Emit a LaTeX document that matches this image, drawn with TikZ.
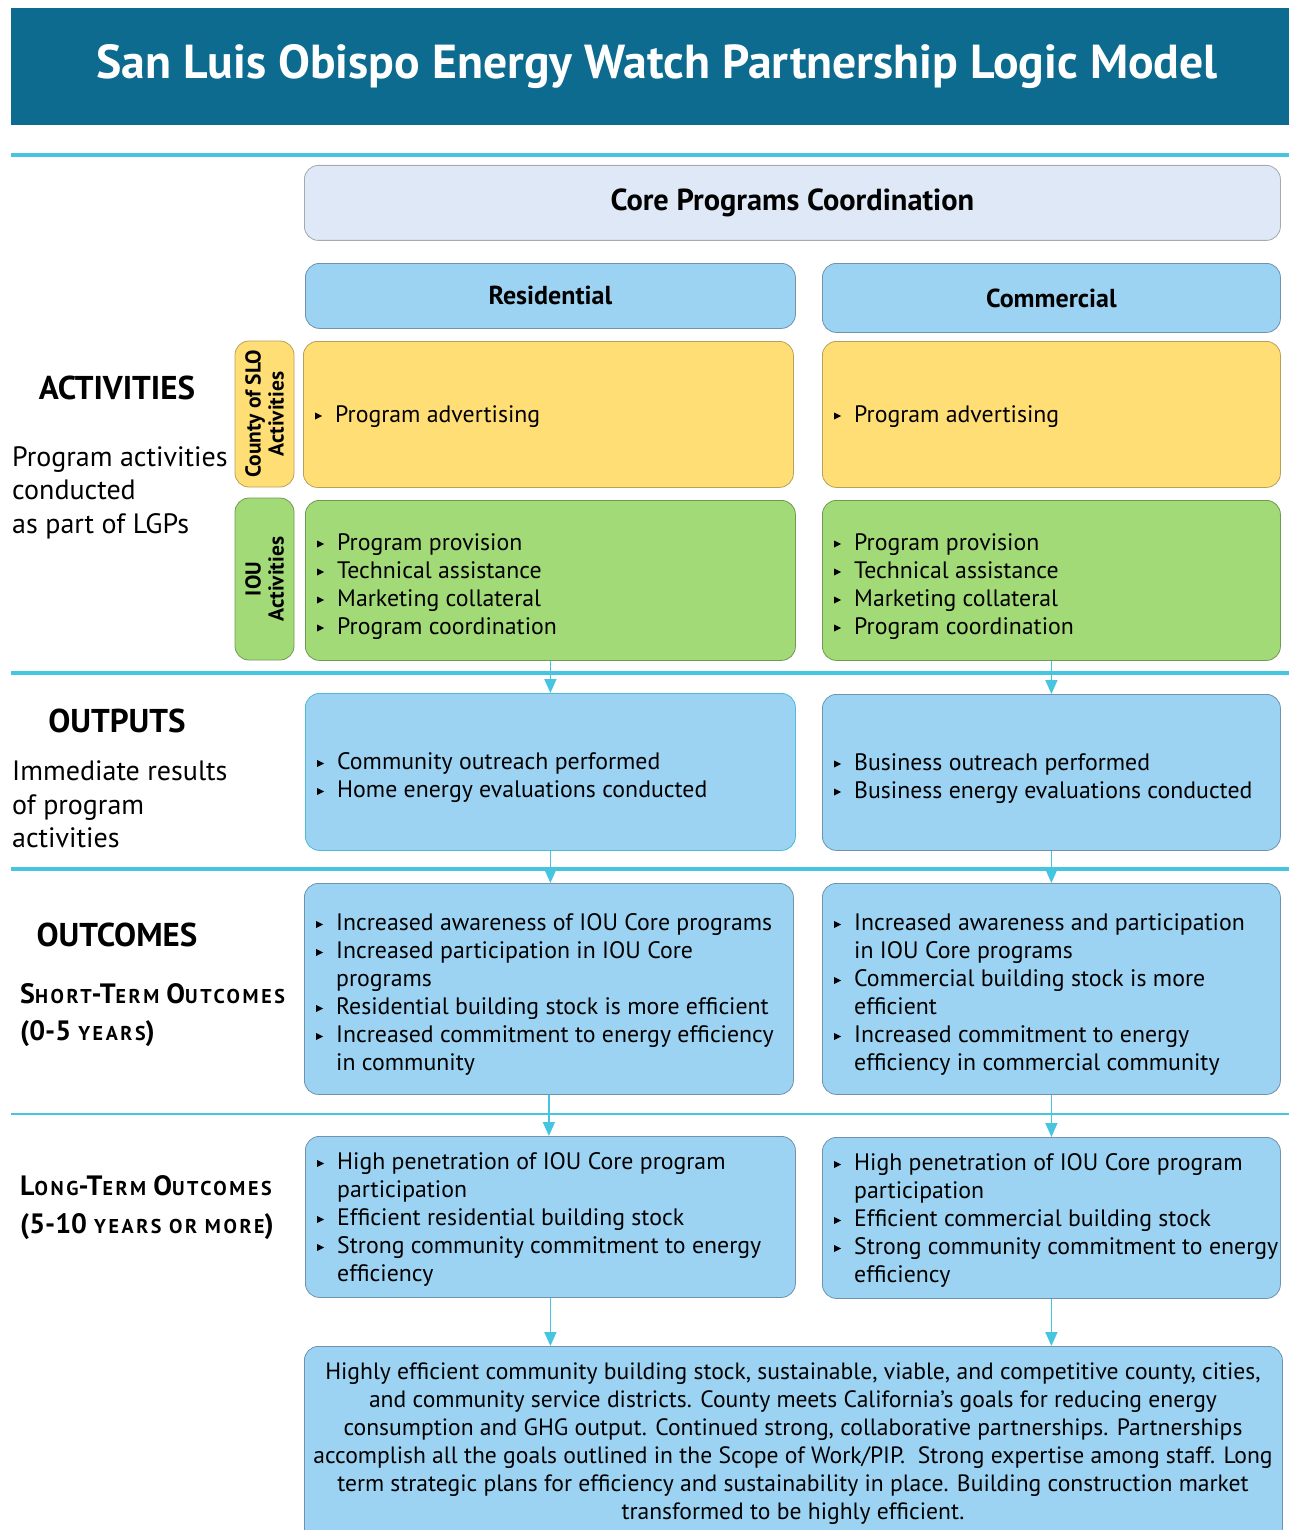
\documentclass[tikz,border=0pt]{standalone}
\usepackage{fontspec}
\setmainfont{PT Sans}
\usetikzlibrary{arrows.meta}

\definecolor{titlebg}{HTML}{0C6B8E}
\definecolor{rulec}{HTML}{45C5E0}
\definecolor{corefill}{HTML}{DFE8F7}
\definecolor{coreline}{HTML}{A5A9B0}
\definecolor{bluefill}{HTML}{9CD3F3}
\definecolor{blueline}{HTML}{6F93AD}
\definecolor{yelfill}{HTML}{FFDE75}
\definecolor{yelline}{HTML}{B9A05A}
\definecolor{grnfill}{HTML}{A3DA78}
\definecolor{grnline}{HTML}{6E9B52}

% small right-pointing bullet
\newcommand\bul{\tikz[baseline=0pt, sharp corners]\fill (0pt,2.5pt)--(0pt,9.5pt)--(7pt,6pt)--cycle;}
% bulleted list with a hanging second column
\newcommand\blist[1]{\begin{tabular}{@{}l@{\hspace{13pt}}l@{}}#1\end{tabular}}
% fake small capitals
\newcommand\sm[1]{{\fontsize{20}{22}\selectfont\addfontfeature{LetterSpace=13}#1}}

\tikzset{
  box/.style={rounded corners=14pt, draw, line width=0.8pt, anchor=north west, inner sep=0pt},
  bluebox/.style={box, fill=bluefill, draw=blueline},
  yelbox/.style={box, fill=yelfill, draw=yelline},
  grnbox/.style={box, fill=grnfill, draw=grnline},
  items/.style={anchor=west, inner sep=0pt, align=left, font=\fontsize{23.8}{28}\selectfont},
  head/.style={rounded corners=14pt, draw, line width=0.8pt, anchor=north west,
    font=\bfseries\fontsize{26}{30}\selectfont},
  side/.style={rounded corners=14pt, draw, line width=0.8pt, rotate=90,
    minimum height=59pt, inner sep=0pt, align=center,
    font=\bfseries\fontsize{21.5}{23}\selectfont},
  sect/.style={font=\bfseries\fontsize{33}{38}\selectfont, inner sep=0pt},
  note/.style={anchor=west, align=left, inner sep=0pt},
  flow/.style={draw=rulec, line width=1.6pt, -{Triangle[width=12pt,length=14pt]}},
  sep/.style={draw=rulec, line width=4pt},
}

\begin{document}
\begin{tikzpicture}[x=1pt, y=-1pt]
\useasboundingbox (0,0) rectangle (1289,1530);

% title band
\fill[titlebg] (11,8) rectangle (1289,125);
\node[text=white, font=\bfseries\fontsize{47.7}{54}\selectfont] (title) at (657,67)
  {San Luis Obispo Energy Watch Partnership Logic Model};

% horizontal section rules
\draw[sep] (11,155) -- (1289,155);
\draw[sep] (11,673) -- (1289,673);
\draw[sep] (11,869) -- (1289,869);
\draw[draw=rulec, line width=2pt] (11,1114) -- (1289,1114);

% left column labels
\node[sect] (lact) at (117,388) {ACTIVITIES};
\node[note, font=\fontsize{28}{33.5}\selectfont] (lactd) at (12,492.5)
  {Program activities\\conducted\\as part of LGPs};
\node[sect] (lout) at (117,721) {OUTPUTS};
\node[note, font=\fontsize{28}{33.5}\selectfont] (loutd) at (12,804.5)
  {Immediate results\\of program\\activities};
\node[sect] (loc) at (117,935) {OUTCOMES};
\node[note, font=\bfseries\fontsize{28}{37}\selectfont] (lst) at (20,1015.5)
  {S\sm{HORT}-T\sm{ERM} O\sm{UTCOMES}\\(0-5 \sm{YEARS})};
\node[note, font=\bfseries\fontsize{28}{38}\selectfont] (llt) at (20,1208)
  {L\sm{ONG}-T\sm{ERM} O\sm{UTCOMES}\\(5-10 \sm{YEARS OR MORE})};

% coordination and program headers
\node[head, fill=corefill, draw=coreline, minimum width=976pt, minimum height=75pt,
  font=\bfseries\fontsize{30.4}{34}\selectfont] (core) at (304,165) {Core Programs Coordination};
\node[head, fill=bluefill, draw=blueline, minimum width=490pt, minimum height=65pt] (res) at (305,263) {Residential};
\node[head, fill=bluefill, draw=blueline, minimum width=458pt, minimum height=69pt] (com) at (822,263) {Commercial};

% side tabs
\node[side, fill=yelfill, draw=yelline, minimum width=146pt] (tcounty) at (264.5,414) {County of SLO\\Activities};
\node[side, fill=grnfill, draw=grnline, minimum width=162pt] (tiou) at (264.5,579) {IOU\\Activities};

% boxes
\node[yelbox,  minimum width=490pt, minimum height=146pt] (ya) at (303,341) {};
\node[yelbox,  minimum width=458pt, minimum height=146pt] (yb) at (822,341) {};
\node[grnbox,  minimum width=490pt, minimum height=160pt] (ga) at (305,500) {};
\node[grnbox,  minimum width=458pt, minimum height=160pt] (gb) at (822,500) {};
\node[bluebox, draw=rulec!80!blueline, minimum width=490pt, minimum height=157pt] (oa) at (305,693) {};
\node[bluebox, minimum width=458pt, minimum height=156pt] (ob) at (822,694) {};
\node[bluebox, minimum width=489pt, minimum height=211pt] (sa) at (304,883) {};
\node[bluebox, minimum width=458pt, minimum height=211pt] (sb) at (822,883) {};
\node[bluebox, minimum width=490pt, minimum height=161pt] (la) at (305,1136) {};
\node[bluebox, minimum width=458pt, minimum height=161pt] (lb) at (822,1137) {};
\node[bluebox, minimum width=978pt, minimum height=196pt] (fin) at (304,1346) {};

% box contents
\node[items] (yat) at ([xshift=12pt, yshift=-2pt]ya.west) {\blist{\bul & Program advertising}};
\node[items] (ybt) at ([xshift=12pt, yshift=-2pt]yb.west) {\blist{\bul & Program advertising}};
\node[items] (gat) at ([xshift=12pt, yshift=-6pt]ga.west)
  {\blist{\bul & Program provision\\ \bul & Technical assistance\\
   \bul & Marketing collateral\\ \bul & Program coordination}};
\node[items] (gbt) at ([xshift=12pt, yshift=-6pt]gb.west)
  {\blist{\bul & Program provision\\ \bul & Technical assistance\\
   \bul & Marketing collateral\\ \bul & Program coordination}};
\node[items] (oat) at ([xshift=12pt, yshift=-6pt]oa.west)
  {\blist{\bul & Community outreach performed\\ \bul & Home energy evaluations conducted}};
\node[items] (obt) at ([xshift=12pt, yshift=-6pt]ob.west)
  {\blist{\bul & Business outreach performed\\ \bul & Business energy evaluations conducted}};
\node[items] (sat) at ([xshift=12pt, yshift=-6pt]sa.west)
  {\blist{\bul & Increased awareness of IOU Core programs\\
   \bul & Increased participation in IOU Core\\ & programs\\
   \bul & Residential building stock is more efficient\\
   \bul & Increased commitment to energy efficiency\\ & in community}};
\node[items] (sbt) at ([xshift=12pt, yshift=-6pt]sb.west)
  {\blist{\bul & Increased awareness and participation\\ & in IOU Core programs\\
   \bul & Commercial building stock is more\\ & efficient\\
   \bul & Increased commitment to energy\\ & efficiency in commercial community}};
\node[items] (lat) at ([xshift=12pt, yshift=-3pt]la.west)
  {\blist{\bul & High penetration of IOU Core program\\ & participation\\
   \bul & Efficient residential building stock\\
   \bul & Strong community commitment to energy\\ & efficiency}};
\node[items] (lbt) at ([xshift=12pt, yshift=-3pt]lb.west)
  {\blist{\bul & High penetration of IOU Core program\\ & participation\\
   \bul & Efficient commercial building stock\\
   \bul & Strong community commitment to energy\\ & efficiency}};
\node[items, anchor=center, align=center, font=\fontsize{23.6}{28}\selectfont] (fint) at (793,1444)
  {Highly efficient community building stock, sustainable, viable, and competitive county, cities,\\
   and community service districts. County meets California’s goals for reducing energy\\
   consumption and GHG output. Continued strong, collaborative partnerships. Partnerships\\
   accomplish all the goals outlined in the Scope of Work/PIP.\ \ Strong expertise among staff. Long\\
   term strategic plans for efficiency and sustainability in place. Building construction market\\
   transformed to be highly efficient.};

% flow arrows
\draw[flow] (ga.south) -- (oa.north);
\draw[flow] (gb.south) -- (ob.north);
\draw[flow] (oa.south) -- (sa.north -| oa.south);
\draw[flow] (ob.south) -- (sb.north);
\draw[flow] (sa.south) -- (la.north -| sa.south);
\draw[flow] (sb.south) -- (lb.north);
\draw[flow] (la.south) -- (fin.north -| la.south);
\draw[flow] (lb.south) -- (fin.north -| lb.south);
\end{tikzpicture}
\end{document}
